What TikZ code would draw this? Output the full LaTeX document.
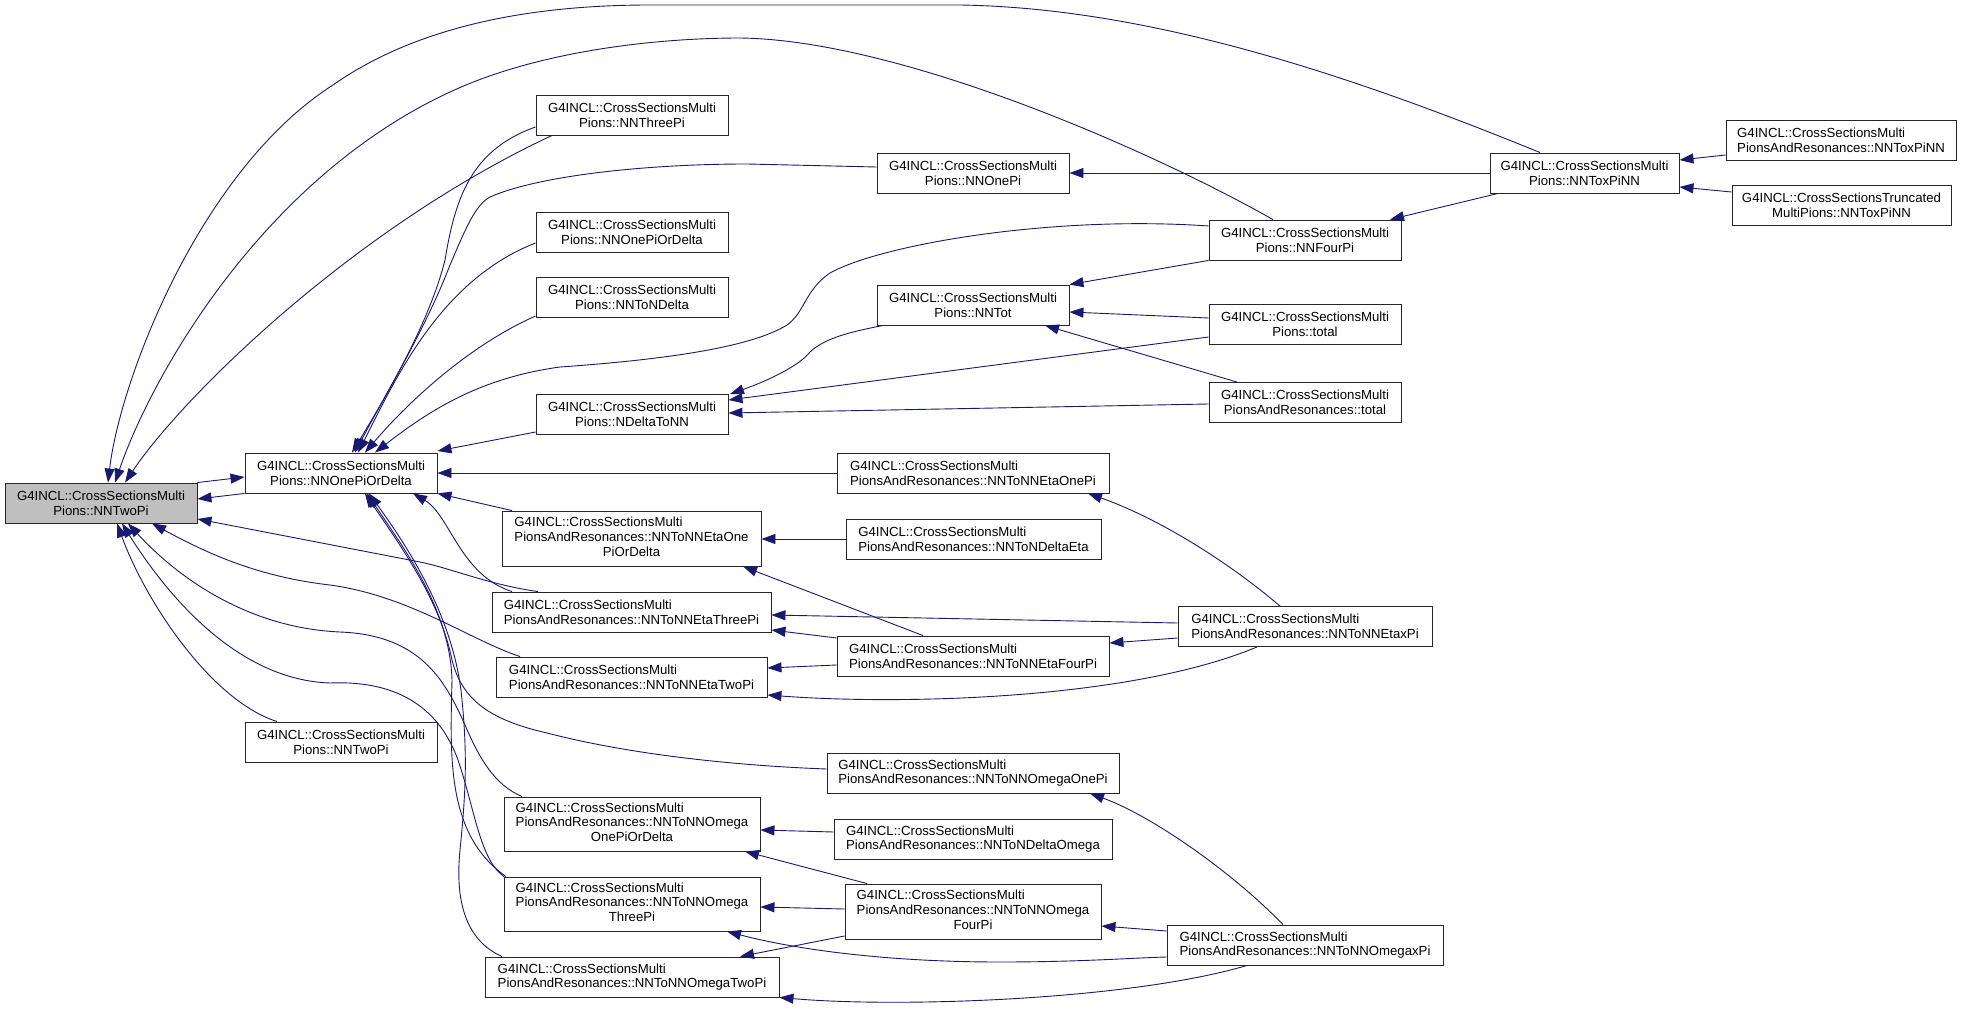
\documentclass[tikz,border=0pt]{standalone}
\usepackage{fontspec}
\setmainfont{Liberation Sans}
\usetikzlibrary{arrows.meta}
\definecolor{mblue}{HTML}{191970}
\definecolor{gfill}{HTML}{BFBFBF}
\newcommand\threel[3]{\begin{tabular}{@{}l@{}}#1\\#2\\\multicolumn{1}{@{}c@{}}{#3}\end{tabular}}
\tikzset{
 box/.style={draw=black!85, line width=0.9pt, fill=white, inner sep=0pt, minimum height=40pt, font=\fontsize{13.2}{14.7}\selectfont, align=center},
 lbox/.style={box, align=left},
 tbox/.style={draw=black!85, line width=0.9pt, fill=white, inner sep=0pt, font=\fontsize{13.2}{14.7}\selectfont},
 edge/.style={draw=mblue, line width=0.9pt, {Triangle[length=14pt,width=10pt]}-},
}
\begin{document}
\begin{tikzpicture}[x=1pt,y=-1pt]
\fill[white] (0,0) rectangle (1971,1011);
\useasboundingbox (0,0) rectangle (1971,1011);
% nodes
\node[box, fill=gfill, minimum width=192pt] (A) at (101,503) {G4INCL::CrossSectionsMulti\\Pions::NNTwoPi};
\node[box, minimum width=192pt] (B) at (341,473) {G4INCL::CrossSectionsMulti\\Pions::NNOnePiOrDelta};
\node[box, minimum width=192pt] (threePi) at (632,115) {G4INCL::CrossSectionsMulti\\Pions::NNThreePi};
\node[box, minimum width=192pt] (leafOPD) at (632,232) {G4INCL::CrossSectionsMulti\\Pions::NNOnePiOrDelta};
\node[box, minimum width=192pt] (toNDelta) at (632,297) {G4INCL::CrossSectionsMulti\\Pions::NNToNDelta};
\node[box, minimum width=192pt] (nDeltaToNN) at (632,414.5) {G4INCL::CrossSectionsMulti\\Pions::NDeltaToNN};
\node[box, minimum width=192pt] (leafTwoPi) at (341,742) {G4INCL::CrossSectionsMulti\\Pions::NNTwoPi};
\node[box, minimum width=192pt] (onePi) at (973,173) {G4INCL::CrossSectionsMulti\\Pions::NNOnePi};
\node[box, minimum width=192pt] (nnTot) at (973,305) {G4INCL::CrossSectionsMulti\\Pions::NNTot};
\node[box, minimum width=192pt] (fourPi) at (1305,240) {G4INCL::CrossSectionsMulti\\Pions::NNFourPi};
\node[box, minimum width=192pt] (total) at (1305,324) {G4INCL::CrossSectionsMulti\\Pions::total};
\node[box, minimum width=192pt] (parTotal) at (1305,402.5) {G4INCL::CrossSectionsMulti\\PionsAndResonances::total};
\node[box, minimum width=189pt] (toxPiNN) at (1584.5,173) {G4INCL::CrossSectionsMulti\\Pions::NNToxPiNN};
\node[lbox, minimum width=230pt] (parToxPiNN) at (1841,140) {G4INCL::CrossSectionsMulti\\PionsAndResonances::NNToxPiNN};
\node[box, minimum width=219pt] (truncToxPiNN) at (1841.5,205) {G4INCL::CrossSectionsTruncated\\MultiPions::NNToxPiNN};
\node[lbox, minimum width=272pt] (etaOnePi) at (973,473) {G4INCL::CrossSectionsMulti\\PionsAndResonances::NNToNNEtaOnePi};
\node[tbox, minimum width=259pt, minimum height=55pt] (etaOPD) at (631.5,538.5) {\threel{G4INCL::CrossSectionsMulti}{PionsAndResonances::NNToNNEtaOne}{PiOrDelta}};
\node[lbox, minimum width=255pt] (toNDeltaEta) at (973.5,539) {G4INCL::CrossSectionsMulti\\PionsAndResonances::NNToNDeltaEta};
\node[lbox, minimum width=279pt] (etaThreePi) at (631.5,612) {G4INCL::CrossSectionsMulti\\PionsAndResonances::NNToNNEtaThreePi};
\node[lbox, minimum width=272pt] (etaFourPi) at (973,656) {G4INCL::CrossSectionsMulti\\PionsAndResonances::NNToNNEtaFourPi};
\node[lbox, minimum width=271pt] (etaTwoPi) at (631.5,677) {G4INCL::CrossSectionsMulti\\PionsAndResonances::NNToNNEtaTwoPi};
\node[lbox, minimum width=254pt] (etaxPi) at (1305,626.5) {G4INCL::CrossSectionsMulti\\PionsAndResonances::NNToNNEtaxPi};
\node[lbox, minimum width=292pt] (omegaOnePi) at (973,773) {G4INCL::CrossSectionsMulti\\PionsAndResonances::NNToNNOmegaOnePi};
\node[tbox, minimum width=256pt, minimum height=54pt] (omegaOPD) at (632,824) {\threel{G4INCL::CrossSectionsMulti}{PionsAndResonances::NNToNNOmega}{OnePiOrDelta}};
\node[lbox, minimum width=278pt] (toNDeltaOmega) at (973,839) {G4INCL::CrossSectionsMulti\\PionsAndResonances::NNToNDeltaOmega};
\node[tbox, minimum width=256pt, minimum height=54pt] (omegaThreePi) at (632,904) {\threel{G4INCL::CrossSectionsMulti}{PionsAndResonances::NNToNNOmega}{ThreePi}};
\node[tbox, minimum width=256pt, minimum height=55pt] (omegaFourPi) at (973,911.5) {\threel{G4INCL::CrossSectionsMulti}{PionsAndResonances::NNToNNOmega}{FourPi}};
\node[lbox, minimum width=294pt] (omegaTwoPi) at (632,977) {G4INCL::CrossSectionsMulti\\PionsAndResonances::NNToNNOmegaTwoPi};
\node[lbox, minimum width=276pt] (omegaxPi) at (1305,945) {G4INCL::CrossSectionsMulti\\PionsAndResonances::NNToNNOmegaxPi};
% edges into A (NNTwoPi)
\draw[edge] (A.north -| 108,0) .. controls (120,380) and (200,170) .. (333,85) .. controls (400,38) and (500,5) .. (650,5) -- (960,5) .. controls (1150,8) and (1350,75) .. (toxPiNN.north -| 1540,0);
\draw[edge] (A.north -| 115,0) .. controls (150,380) and (260,180) .. (450,92) .. controls (540,50) and (660,38) .. (740,38) .. controls (900,40) and (1150,150) .. (fourPi.north -| 1273,0);
\draw[edge] (A.north -| 125,0) .. controls (180,400) and (350,230) .. (threePi.south -| 552,0);
\draw[edge] (A.east |- 0,499) -- (B.south west);
\draw[edge] (A.east |- 0,519) -- (420,562) .. controls (450,568) and (490,585) .. (etaThreePi.north -| 538,0);
\draw[edge] (A.south -| 152,0) .. controls (210,555) and (260,577) .. (330,585) .. controls (410,596) and (470,640) .. (etaTwoPi.north -| 520,0);
\draw[edge] (A.south -| 117,0) .. controls (145,600) and (210,700) .. (leafTwoPi.north -| 277,0);
\draw[edge] (A.south -| 128,0) .. controls (180,580) and (250,628) .. (340,632) .. controls (420,635) and (445,680) .. (465,725) .. controls (480,760) and (495,785) .. (omegaOPD.north -| 522,0);
\draw[edge] (A.south -| 122,0) .. controls (170,600) and (240,680) .. (330,683) .. controls (400,680) and (440,710) .. (458,760) .. controls (475,810) and (480,860) .. (omegaThreePi.north -| 504,0);
% edges into B (NNOnePiOrDelta)
\draw[edge] (B.west |- 0,477) -- (A.north east);
\draw[edge] (B.north -| 352,0) .. controls (390,390) and (430,320) .. (445,260) .. controls (455,200) and (470,150) .. (threePi.west |- 0,127);
\draw[edge] (B.north -| 355,0) .. controls (385,395) and (425,330) .. (450,265) .. controls (465,230) and (475,205) .. (490,197) .. controls (540,175) and (650,164) .. (747,164) -- (onePi.west |- 0,167);
\draw[edge] (B.north -| 358,0) .. controls (395,380) and (440,280) .. (leafOPD.west |- 0,243);
\draw[edge] (B.north -| 365,0) .. controls (410,400) and (470,345) .. (toNDelta.west |- 0,316);
\draw[edge] (B.north -| 375,0) .. controls (430,410) and (480,378) .. (560,367) .. controls (660,360) and (750,348) .. (787,325) .. controls (805,312) and (805,290) .. (830,273) .. controls (880,245) and (1050,215) .. (fourPi.west |- 0,226);
\draw[edge] (B.east |- 0,451) -- (nDeltaToNN.west |- 0,432);
\draw[edge] (B.east) -- (etaOnePi.west);
\draw[edge] (B.south east) -- (etaOPD.north -| 512,0);
\draw[edge] (B.south -| 413,0) .. controls (450,515) and (460,575) .. (etaThreePi.north -| 512,0);
\draw[edge] (B.south -| 365,0) .. controls (400,545) and (440,600) .. (452,660) .. controls (462,700) and (490,720) .. (547,733) .. controls (620,752) and (720,765) .. (omegaOnePi.west |- 0,769);
\draw[edge] (B.south -| 367,0) .. controls (405,550) and (450,610) .. (452,680) .. controls (450,760) and (447,835) .. (omegaThreePi.north -| 506,0);
\draw[edge] (B.south -| 369,0) .. controls (410,550) and (455,620) .. (462,700) .. controls (468,760) and (465,800) .. (460,850) .. controls (455,900) and (465,940) .. (omegaTwoPi.north -| 502,0);
% middle / right edges
\draw[edge] (nDeltaToNN.north -| 730,0) .. controls (770,380) and (800,365) .. (810,352) .. controls (825,338) and (850,332) .. (nnTot.south -| 883,0);
\draw[edge] (nDeltaToNN.east |- 0,400) -- (total.west |- 0,337);
\draw[edge] (nDeltaToNN.east |- 0,413) -- (parTotal.west |- 0,404);
\draw[edge] (nnTot.north east) -- (fourPi.south west);
\draw[edge] (nnTot.east |- 0,312) -- (total.west |- 0,318);
\draw[edge] (nnTot.south -| 1045,0) -- (parTotal.north -| 1237,0);
\draw[edge] (fourPi.north -| 1390,0) -- (toxPiNN.south -| 1498,0);
\draw[edge] (onePi.east) -- (toxPiNN.west);
\draw[edge] (toxPiNN.east |- 0,160) -- (parToxPiNN.west |- 0,155);
\draw[edge] (toxPiNN.east |- 0,187) -- (truncToxPiNN.west |- 0,192);
\draw[edge] (etaOPD.east |- 0,539) -- (toNDeltaEta.west |- 0,539);
\draw[edge] (etaOPD.south -| 743,0) -- (etaFourPi.north -| 923,0);
\draw[edge] (etaOnePi.south -| 1088,0) .. controls (1150,515) and (1220,555) .. (etaxPi.north -| 1280,0);
\draw[edge] (etaThreePi.east |- 0,615) -- (etaxPi.west |- 0,623);
\draw[edge] (etaThreePi.east |- 0,630) -- (etaFourPi.west |- 0,638);
\draw[edge] (etaFourPi.east |- 0,643) -- (etaxPi.west |- 0,638);
\draw[edge] (etaTwoPi.east |- 0,668) -- (etaFourPi.west |- 0,665);
\draw[edge] (etaTwoPi.east |- 0,695) .. controls (900,705) and (1130,700) .. (etaxPi.south -| 1257,0);
\draw[edge] (omegaOPD.east |- 0,830) -- (toNDeltaOmega.west |- 0,832);
\draw[edge] (omegaOPD.south -| 745,0) -- (omegaFourPi.north -| 867,0);
\draw[edge] (omegaThreePi.east |- 0,907) -- (omegaFourPi.west |- 0,909);
\draw[edge] (omegaThreePi.south -| 727,0) .. controls (790,948) and (880,962) .. (1000,962) .. controls (1080,962) and (1130,958) .. (omegaxPi.west |- 0,957);
\draw[edge] (omegaTwoPi.north -| 740,0) -- (omegaFourPi.west |- 0,936);
\draw[edge] (omegaTwoPi.south east) .. controls (900,1008) and (1130,1000) .. (omegaxPi.south -| 1247,0);
\draw[edge] (omegaOnePi.south -| 1090,0) .. controls (1150,815) and (1230,870) .. (omegaxPi.north -| 1283,0);
\draw[edge] (omegaFourPi.east |- 0,926) -- (omegaxPi.west |- 0,931);
\end{tikzpicture}
\end{document}
